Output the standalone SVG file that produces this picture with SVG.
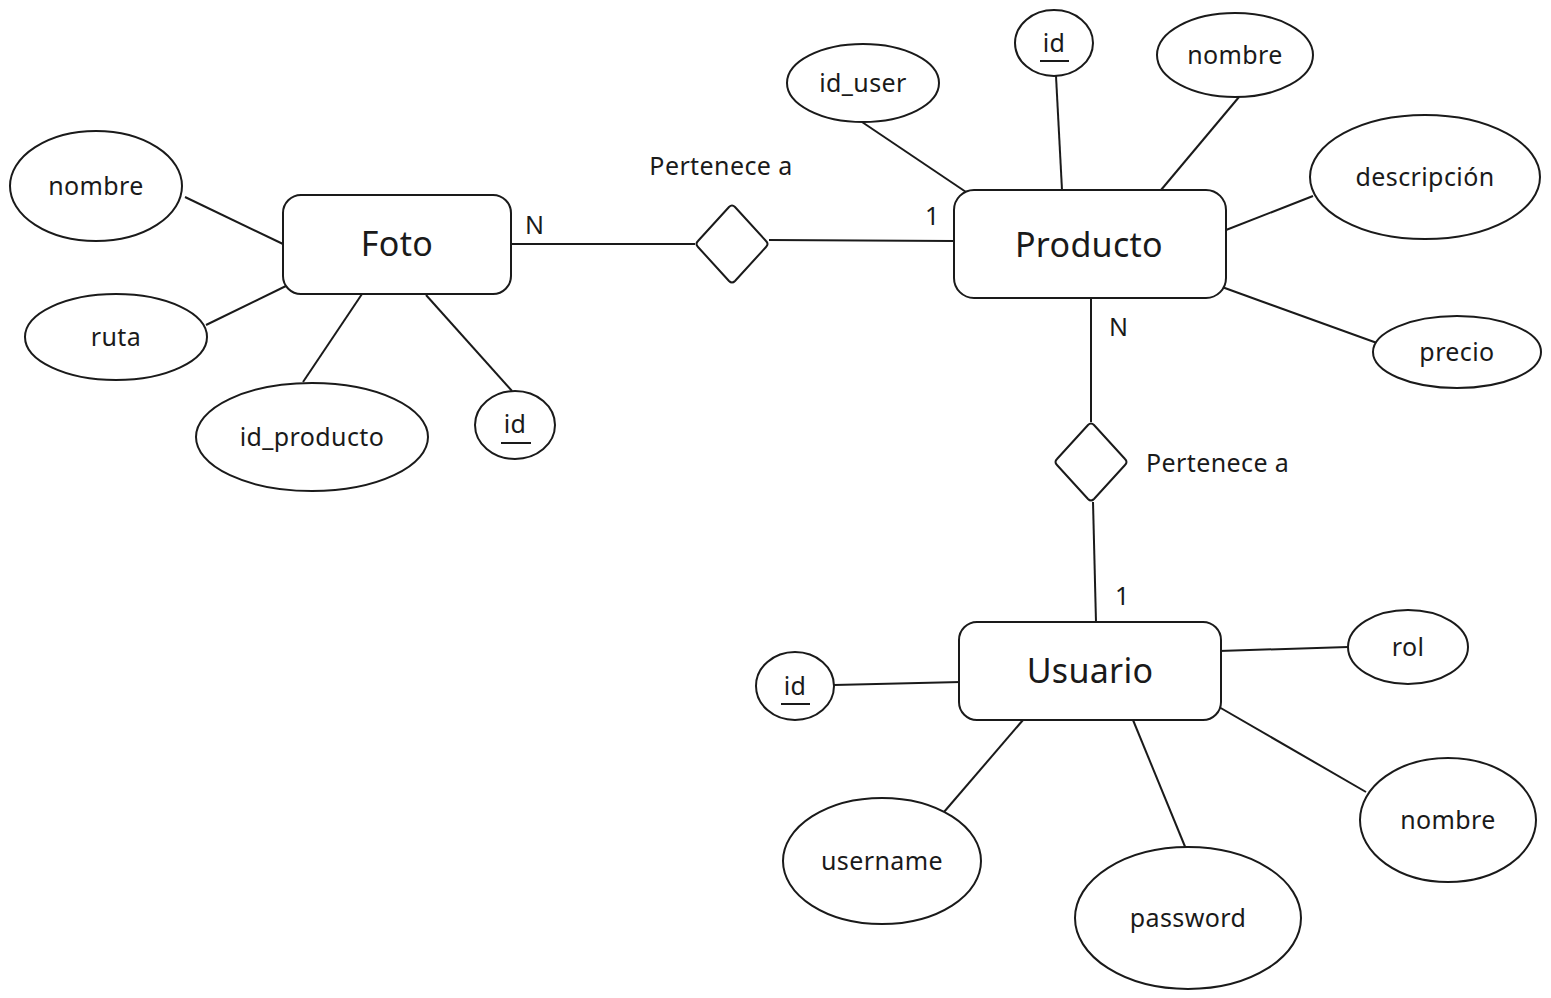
<svg xmlns="http://www.w3.org/2000/svg" width="1551" height="998" viewBox="0 0 1551 998">
<style>
.sh{fill:#fff;stroke:#1a1a1a;stroke-width:2}
.ln{stroke:#1a1a1a;stroke-width:2;fill:none}
text{font-family:"Noto Sans","Open Sans","DejaVu Sans",sans-serif;fill:#1a1a1a;font-size:25px;letter-spacing:0.4px}
.c{text-anchor:middle}
.big{font-size:34px;letter-spacing:0.3px}
</style>
<rect width="1551" height="998" fill="#fff"/>
<g id="connectors">
<line class="ln" x1="185" y1="197" x2="283" y2="244"/>
<line class="ln" x1="206" y1="325" x2="288" y2="285"/>
<line class="ln" x1="303" y1="382" x2="362" y2="294"/>
<line class="ln" x1="512" y1="391" x2="426" y2="295"/>
<line class="ln" x1="511" y1="244" x2="695" y2="244"/>
<line class="ln" x1="769" y1="240" x2="954" y2="241"/>
<line class="ln" x1="862" y1="122" x2="966" y2="192"/>
<line class="ln" x1="1056" y1="76" x2="1062" y2="190"/>
<line class="ln" x1="1239" y1="97" x2="1161" y2="190"/>
<line class="ln" x1="1313" y1="196" x2="1226" y2="230"/>
<line class="ln" x1="1377" y1="343" x2="1222" y2="287"/>
<line class="ln" x1="1091" y1="298" x2="1091" y2="422"/>
<line class="ln" x1="1093" y1="502" x2="1096" y2="622"/>
<line class="ln" x1="1219" y1="651" x2="1348" y2="647"/>
<line class="ln" x1="834" y1="685" x2="961" y2="682"/>
<line class="ln" x1="944" y1="812" x2="1023" y2="720"/>
<line class="ln" x1="1186" y1="849" x2="1133" y2="720"/>
<line class="ln" x1="1366" y1="792" x2="1219" y2="707"/>
</g>
<g id="labels">
<text class="c" x="721" y="175">Pertenece a</text>
<text x="525" y="234">N</text>
<text x="925" y="225">1</text>
<text x="1109" y="336">N</text>
<text x="1146" y="472">Pertenece a</text>
<text x="1115" y="605">1</text>
</g>
<g id="foto"><rect class="sh" x="283" y="195" width="228" height="99" rx="18"/><text class="c big" x="397" y="256">Foto</text></g>
<g id="producto"><rect class="sh" x="954" y="190" width="272" height="108" rx="20"/><text class="c big" x="1089" y="257">Producto</text></g>
<g id="usuario"><rect class="sh" x="959" y="622" width="262" height="98" rx="18"/><text class="c big" x="1090" y="683">Usuario</text></g>
<g id="rel1"><path class="sh" d="M729 207 Q732 204 735 207 L766 241 Q769 244 766 247 L735 281 Q732 284 729 281 L698 247 Q695 244 698 241 Z"/></g>
<g id="rel2"><path class="sh" d="M1088 425 Q1091 422 1094 425 L1125 459 Q1128 462 1125 465 L1094 499 Q1091 502 1088 499 L1057 465 Q1054 462 1057 459 Z"/></g>
<g id="foto-nombre"><ellipse class="sh" cx="96" cy="186" rx="86" ry="55"/><text class="c" x="96" y="195">nombre</text></g>
<g id="foto-ruta"><ellipse class="sh" cx="116" cy="337" rx="91" ry="43"/><text class="c" x="116" y="346">ruta</text></g>
<g id="foto-idproducto"><ellipse class="sh" cx="312" cy="437" rx="116" ry="54"/><text class="c" x="312" y="446">id_producto</text></g>
<g id="foto-id"><ellipse class="sh" cx="515" cy="425" rx="40" ry="34"/><text class="c" x="515" y="433">id</text><line class="ln" x1="501" y1="443" x2="531" y2="443"/></g>
<g id="prod-iduser"><ellipse class="sh" cx="863" cy="83" rx="76" ry="39"/><text class="c" x="863" y="92">id_user</text></g>
<g id="prod-id"><ellipse class="sh" cx="1054" cy="43" rx="39" ry="33"/><text class="c" x="1054" y="52">id</text><line class="ln" x1="1040" y1="61" x2="1069" y2="61"/></g>
<g id="prod-nombre"><ellipse class="sh" cx="1235" cy="55" rx="78" ry="42"/><text class="c" x="1235" y="64">nombre</text></g>
<g id="prod-descripcion"><ellipse class="sh" cx="1425" cy="177" rx="115" ry="62"/><text class="c" x="1425" y="186">descripción</text></g>
<g id="prod-precio"><ellipse class="sh" cx="1457" cy="352" rx="84" ry="36"/><text class="c" x="1457" y="361">precio</text></g>
<g id="usr-rol"><ellipse class="sh" cx="1408" cy="647" rx="60" ry="37"/><text class="c" x="1408" y="656">rol</text></g>
<g id="usr-id"><ellipse class="sh" cx="795" cy="686" rx="39" ry="34"/><text class="c" x="795" y="695">id</text><line class="ln" x1="781" y1="704" x2="810" y2="704"/></g>
<g id="usr-nombre"><ellipse class="sh" cx="1448" cy="820" rx="88" ry="62"/><text class="c" x="1448" y="829">nombre</text></g>
<g id="usr-username"><ellipse class="sh" cx="882" cy="861" rx="99" ry="63"/><text class="c" x="882" y="870">username</text></g>
<g id="usr-password"><ellipse class="sh" cx="1188" cy="918" rx="113" ry="71"/><text class="c" x="1188" y="927">password</text></g>
</svg>
